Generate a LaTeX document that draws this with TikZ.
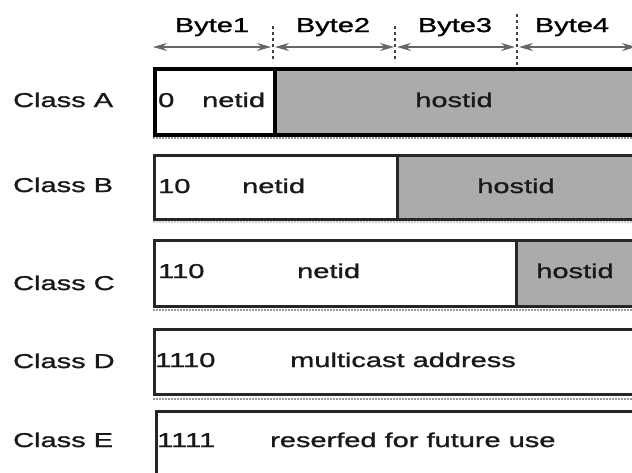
\documentclass[tikz,border=0pt]{standalone}
\usepackage{fontspec}
\setmainfont{Liberation Sans}[FakeStretch=1.45,FakeBold=1.3]
\usetikzlibrary{arrows.meta}
\begin{document}
\begin{tikzpicture}[x=1pt,y=-1pt,
  lbl/.style={font=\fontsize{20}{24}\selectfont, text=black!90, inner sep=0pt},
  cellbox/.style={draw=black!85, line width=3pt, rectangle, inner sep=0pt, anchor=north west},
  netcell/.style={cellbox, fill=white},
  hostcell/.style={cellbox, fill=black!33},
  bytearrow/.style={draw=black!60, line width=1.6pt,
    {Stealth[length=14pt,width=8pt,fill=black!40]}-{Stealth[length=14pt,width=8pt,fill=black!40]}},
  tick/.style={draw=black!75, line width=1.2pt, dashed},
  grain/.style={draw=black!40, line width=2.5pt, dash pattern=on 1.5pt off 1.5pt}]
\useasboundingbox (0,0) rectangle (632,472);
\clip (0,0) rectangle (632,472);

% byte scale
\node[lbl, text=black, anchor=base] (b1) at (212,32) {Byte1};
\node[lbl, text=black, anchor=base] (b2) at (333,32) {Byte2};
\node[lbl, text=black, anchor=base] (b3) at (455,32) {Byte3};
\node[lbl, text=black, anchor=base] (b4) at (572,32) {Byte4};
\coordinate (t0) at (153,47);
\coordinate (t1) at (273,47);
\coordinate (t2) at (395,47);
\coordinate (t3) at (517,47);
\coordinate (t4) at (636,47);
\draw[tick] (273,26) -- (273,62);
\draw[tick] (395,26) -- (395,62);
\draw[tick] (517,14) -- (517,68);
\draw[bytearrow] (t0) -- ([xshift=-2pt]t1);
\draw[bytearrow] ([xshift=2pt]t1) -- ([xshift=-1pt]t2);
\draw[bytearrow] ([xshift=2pt]t2) -- ([xshift=-2pt]t3);
\draw[bytearrow] ([xshift=2pt]t3) -- (t4);

% print grain under the rows
\draw[grain] (153,138) -- (640,138);
\draw[grain, draw=black!20] (153,222) -- (640,222);
\draw[grain] (153,310) -- (640,310);
\draw[grain] (153,399) -- (640,399);

% Class A
\node[hostcell, line width=4pt, draw=black, minimum width=380pt, minimum height=66pt] (ha) at (273,67) {};
\node[netcell, line width=4pt, draw=black, minimum width=120pt, minimum height=66pt] (na) at (153,67) {};
% Class B
\node[hostcell, minimum width=250pt, minimum height=64pt] (hb) at (396,154) {};
\node[netcell, minimum width=243pt, minimum height=64pt] (nb) at (153,154) {};
% Class C
\node[hostcell, minimum width=130pt, minimum height=66pt] (hc) at (515,239) {};
\node[netcell, minimum width=362pt, minimum height=66pt] (nc) at (153,239) {};
% Class D
\node[netcell, minimum width=490pt, minimum height=65pt] (nd) at (153,328) {};
% Class E
\node[netcell, minimum width=490pt, minimum height=80pt] (ne) at (155,410) {};

% class labels
\node[lbl, anchor=base west] (ca) at (13,107) {Class A};
\node[lbl, anchor=base west] (cb) at (13,192) {Class B};
\node[lbl, anchor=base west] (cc) at (13,290) {Class C};
\node[lbl, anchor=base west] (cd) at (13,368) {Class D};
\node[lbl, anchor=base west] (ce) at (13,447) {Class E};

% field texts
\node[lbl, anchor=base west] (pa) at (158,107) {0};
\node[lbl, anchor=base west] (ta) at (202,107) {netid};
\node[lbl, anchor=base] (sa) at (454,107) {hostid};
\node[lbl, anchor=base west] (pb) at (158,193) {10};
\node[lbl, anchor=base west] (tb) at (242,193) {netid};
\node[lbl, anchor=base] (sb) at (516,193) {hostid};
\node[lbl, anchor=base west] (pc) at (158,278) {110};
\node[lbl, anchor=base west] (tc) at (297,278) {netid};
\node[lbl, anchor=base] (sc) at (575,278) {hostid};
\node[lbl, anchor=base west] (pd) at (155,367) {1110};
\node[lbl, anchor=base west] (td) at (290,367) {multicast address};
\node[lbl, anchor=base west] (pe) at (157,447) {1111};
\node[lbl, anchor=base west] (te) at (270,447) {reserfed for future use};
\end{tikzpicture}
\end{document}
